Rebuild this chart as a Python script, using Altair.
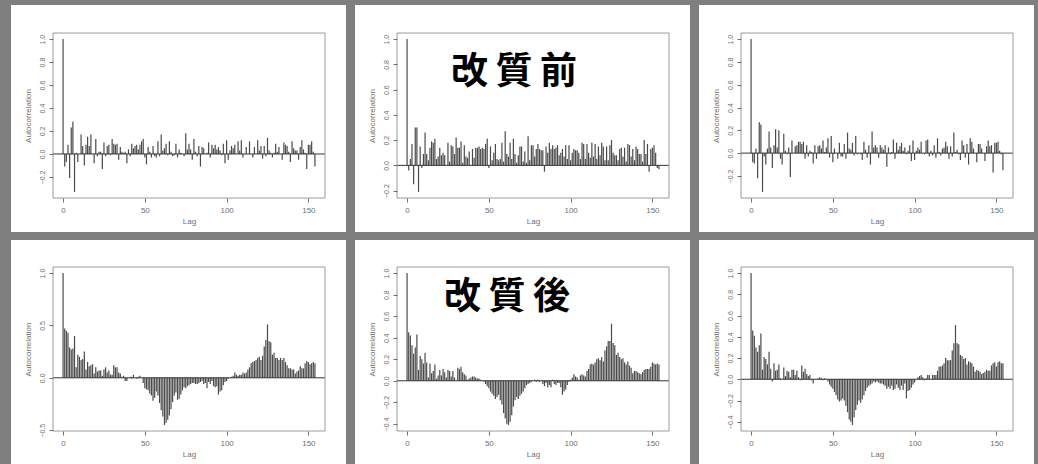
import altair as alt
import pandas as pd

# Sample autocorrelation (lags 0..154) for three series, before and after treatment
lags = list(range(155))

acf_before_a = [
    1.0, -0.11, -0.07, 0.08, -0.21, 0.23, 0.28, -0.33, 0.01, -0.07,
    0.0, 0.17, 0.07, -0.1, 0.08, 0.15, 0.07, 0.17, 0.0, -0.08,
    0.13, -0.02, 0.02, 0.02, -0.13, 0.1, -0.02, 0.07, 0.08, -0.01,
    0.13, 0.09, 0.08, 0.09, -0.05, 0.06, 0.02, 0.01, 0.02, -0.08,
    0.04, -0.02, 0.09, 0.05, 0.07, 0.08, 0.04, 0.08, 0.11, 0.13,
    -0.03, -0.09, 0.06, 0.02, -0.03, 0.07, -0.02, -0.03, 0.11, -0.02,
    0.17, 0.03, 0.05, 0.09, -0.01, 0.11, 0.02, -0.02, -0.01, 0.09,
    -0.03, 0.04, 0.01, 0.0, -0.02, 0.18, 0.04, 0.09, 0.04, -0.05,
    0.13, 0.02, -0.02, 0.07, -0.11, 0.06, 0.05, 0.0, 0.01, 0.1,
    -0.03, 0.08, 0.05, 0.08, 0.04, 0.06, 0.03, -0.01, 0.09, -0.08,
    0.12, -0.05, 0.03, 0.07, 0.05, 0.08, 0.0, 0.11, 0.03, 0.12,
    -0.03, 0.0, 0.06, 0.0, 0.11, 0.0, -0.03, 0.06, 0.0, 0.12,
    0.03, 0.07, -0.04, 0.07, -0.02, 0.14, 0.03, 0.01, -0.03, 0.01,
    0.09, 0.02, 0.06, 0.0, -0.05, 0.1, 0.08, 0.07, 0.02, -0.07,
    0.11, 0.05, 0.03, 0.03, -0.05, 0.06, 0.12, 0.04, 0.01, -0.13,
    0.08, 0.08, 0.11, 0.02, -0.11,
]

acf_before_b = [
    1.0, -0.04, 0.05, 0.17, -0.15, 0.3, 0.3, -0.21, 0.15, -0.02,
    0.09, 0.26, 0.09, 0.04, 0.14, 0.19, 0.18, 0.21, 0.05, 0.07,
    0.14, 0.08, 0.1, 0.08, 0.0, 0.18, 0.03, 0.16, 0.15, 0.09,
    0.22, 0.14, 0.14, 0.19, 0.02, 0.16, 0.07, 0.06, 0.11, 0.0,
    0.13, 0.06, 0.14, 0.14, 0.15, 0.13, 0.14, 0.13, 0.17, 0.21,
    -0.02, 0.15, 0.04, 0.1, 0.17, 0.05, 0.04, 0.05, 0.18, 0.03,
    0.27, 0.09, 0.07, 0.18, 0.05, 0.21, 0.09, 0.02, 0.08, 0.15,
    0.15, 0.03, 0.11, 0.02, 0.23, 0.04, 0.16, 0.16, 0.07, 0.13,
    0.17, 0.13, 0.12, 0.12, -0.05, 0.15, 0.1, 0.18, 0.13, 0.16,
    0.13, 0.14, 0.16, 0.08, 0.1, 0.13, 0.07, 0.16, 0.05, 0.16,
    0.04, 0.1, 0.13, 0.12, 0.12, 0.1, 0.05, 0.18, 0.17, 0.05,
    0.17, 0.1, 0.06, 0.18, 0.07, 0.17, 0.05, 0.15, 0.08, 0.18,
    0.15, 0.04, 0.15, 0.04, 0.16, 0.2, 0.1, 0.08, 0.08, 0.04,
    0.13, 0.14, 0.07, 0.14, 0.03, 0.17, 0.16, 0.07, 0.13, 0.04,
    0.15, 0.13, 0.09, 0.09, 0.03, 0.2, 0.09, 0.17, -0.05, 0.13,
    0.14, 0.16, 0.1, -0.02, -0.03,
]

acf_before_c = [
    1.0, -0.08, -0.09, 0.04, -0.22, 0.27, 0.25, -0.34, -0.03, -0.1,
    0.04, 0.19, 0.05, -0.13, 0.07, 0.21, 0.05, 0.2, -0.05, -0.1,
    0.17, 0.02, -0.01, 0.05, -0.21, 0.11, 0.0, 0.06, 0.07, 0.1,
    0.1, 0.08, 0.1, -0.05, 0.07, -0.03, 0.02, 0.01, -0.09, 0.07,
    -0.05, 0.06, 0.07, 0.04, 0.11, 0.01, 0.05, 0.13, -0.04, 0.15,
    -0.08, 0.04, 0.0, -0.05, 0.09, -0.03, -0.03, 0.08, -0.05, 0.18,
    0.04, 0.03, 0.09, -0.02, 0.15, -0.01, 0.0, -0.01, -0.06, 0.1,
    0.03, -0.04, 0.07, -0.1, 0.19, 0.05, 0.07, 0.05, -0.04, 0.07,
    0.05, 0.03, 0.07, -0.12, 0.05, -0.01, 0.01, 0.12, -0.05, 0.09,
    0.03, 0.06, 0.09, 0.02, 0.05, -0.01, 0.02, 0.07, -0.07, 0.11,
    -0.06, 0.02, 0.05, 0.03, 0.1, 0.0, -0.01, 0.11, 0.12, -0.03,
    0.02, -0.02, 0.07, -0.04, 0.13, 0.01, -0.02, 0.04, 0.05, 0.1,
    0.06, -0.05, 0.06, -0.03, 0.18, 0.01, 0.03, -0.01, -0.06, 0.11,
    0.07, -0.04, 0.08, -0.1, 0.13, 0.1, 0.04, 0.0, -0.08, 0.08,
    0.08, 0.04, 0.0, -0.07, 0.06, 0.11, 0.06, 0.07, -0.17, 0.09,
    0.09, 0.1, 0.02, -0.01, -0.15,
]

acf_after_a = [
    1.0, 0.47, 0.45, 0.43, 0.29, 0.27, 0.28, 0.4, 0.1, 0.22,
    0.2, 0.17, 0.18, 0.25, 0.08, 0.15, 0.11, 0.12, 0.13, 0.04,
    0.1, 0.06, 0.07, 0.07, 0.02, 0.08, 0.1, 0.05, 0.07, 0.03,
    0.03, 0.12, 0.1, 0.1, 0.05, 0.04, 0.01, 0.02, -0.03, -0.03,
    0.0, 0.01, -0.01, 0.03, 0.0, -0.01, 0.01, 0.02, 0.0, -0.05,
    -0.1, -0.11, -0.12, -0.15, -0.17, -0.22, -0.19, -0.13, -0.17, -0.24,
    -0.31, -0.37, -0.45, -0.43, -0.4, -0.36, -0.3, -0.23, -0.17, -0.14,
    -0.21, -0.2, -0.16, -0.12, -0.09, -0.1, -0.08, -0.07, -0.06, -0.05,
    -0.05, -0.06, -0.06, -0.05, -0.04, -0.03, -0.06, -0.05, -0.1, -0.04,
    -0.06, -0.03, -0.08, -0.09, -0.08, -0.16, -0.13, -0.12, -0.07, -0.04,
    -0.03, -0.01, 0.0, 0.01, 0.02, 0.05, 0.03, 0.02, 0.03, 0.03,
    0.05, 0.04, 0.05, 0.08, 0.1, 0.14, 0.15, 0.16, 0.17, 0.19,
    0.2, 0.17, 0.21, 0.3, 0.36, 0.51, 0.35, 0.34, 0.22, 0.24,
    0.19, 0.19, 0.17, 0.19, 0.17, 0.19, 0.15, 0.12, 0.09, 0.09,
    0.08, 0.08, 0.04, 0.06, 0.07, 0.11, 0.09, 0.09, 0.14, 0.16,
    0.15, 0.13, 0.14, 0.15, 0.14,
]

acf_after_b = [
    1.0, 0.45, 0.42, 0.33, 0.25, 0.31, 0.43, 0.1, 0.23, 0.2,
    0.16, 0.26, 0.17, 0.03, 0.16, 0.07, 0.09, 0.15, 0.02, 0.05,
    0.1, 0.05, 0.11, 0.08, 0.03, 0.1, 0.09, 0.04, 0.09, 0.03,
    0.0, 0.12, 0.11, 0.13, 0.08, 0.06, 0.05, 0.01, 0.02, 0.03,
    0.04, 0.04, 0.03, 0.02, 0.02, 0.01, 0.0, -0.01, -0.03, -0.05,
    -0.07, -0.1, -0.12, -0.14, -0.17, -0.15, -0.13, -0.18, -0.22, -0.3,
    -0.35, -0.4, -0.41, -0.38, -0.32, -0.24, -0.18, -0.15, -0.17, -0.14,
    -0.12, -0.1, -0.07, -0.04, -0.03, -0.02, -0.01, 0.0, 0.01, -0.01,
    0.01, -0.01, 0.0, -0.03, -0.05, -0.02, -0.06, -0.04, -0.06, 0.01,
    -0.03, -0.04, -0.02, -0.02, -0.06, -0.13, -0.1, -0.08, -0.04, -0.01,
    0.01, 0.03, 0.06, 0.04, 0.03, 0.01, 0.05, 0.06, 0.05, 0.04,
    0.09, 0.11, 0.15, 0.16, 0.15, 0.17, 0.2, 0.21, 0.19, 0.22,
    0.18, 0.28, 0.32, 0.37, 0.37, 0.53, 0.35, 0.33, 0.24, 0.26,
    0.22, 0.2, 0.21, 0.17, 0.15, 0.18, 0.14, 0.12, 0.07, 0.09,
    0.09, 0.08, 0.07, 0.06, 0.08, 0.1, 0.11, 0.11, 0.11, 0.13,
    0.17, 0.16, 0.15, 0.16, 0.15,
]

acf_after_c = [
    1.0, 0.46, 0.41, 0.3, 0.26, 0.32, 0.43, 0.09, 0.21, 0.19,
    0.14, 0.26, 0.1, -0.02, 0.15, 0.08, 0.09, 0.14, 0.01, 0.0,
    0.11, 0.03, 0.08, 0.07, 0.02, 0.09, 0.09, 0.04, 0.08, 0.02,
    -0.01, 0.13, 0.07, 0.1, 0.05, 0.03, 0.04, -0.01, -0.04, 0.0,
    0.0, 0.01, 0.02, 0.01, -0.01, 0.01, 0.0, -0.02, -0.05, -0.07,
    -0.09, -0.12, -0.15, -0.19, -0.21, -0.2, -0.18, -0.2, -0.25, -0.31,
    -0.38, -0.4, -0.43, -0.36, -0.29, -0.24, -0.2, -0.22, -0.19, -0.15,
    -0.11, -0.08, -0.06, -0.05, -0.04, -0.02, -0.03, -0.02, -0.03, -0.04,
    -0.04, -0.05, -0.06, -0.09, -0.07, -0.09, -0.06, -0.1, -0.09, -0.05,
    -0.08, -0.1, -0.06, -0.1, -0.04, -0.18, -0.11, -0.1, -0.08, -0.05,
    -0.03, 0.0, 0.02, 0.03, 0.04, 0.02, -0.01, 0.01, 0.04, 0.04,
    0.0, 0.04, 0.04, 0.04, 0.08, 0.12, 0.12, 0.13, 0.15, 0.2,
    0.18, 0.18, 0.18, 0.27, 0.34, 0.51, 0.34, 0.33, 0.23, 0.22,
    0.19, 0.2, 0.14, 0.17, 0.16, 0.15, 0.12, 0.07, 0.09, 0.08,
    0.07, 0.05, 0.06, 0.07, 0.09, 0.08, 0.08, 0.13, 0.15, 0.16,
    0.12, 0.16, 0.17, 0.15, 0.15,
]

lag_ticks = [0, 50, 100, 150]
acf_ticks_fine = [-0.4, -0.2, 0.0, 0.2, 0.4, 0.6, 0.8, 1.0]
acf_ticks_coarse = [-0.5, 0.0, 0.5, 1.0]

label_before = "改\u2009質\u2009前"
label_after = "改\u2009質\u2009後"

FONT = "Liberation Sans"
W = 272
LEFT, RIGHT = 42, 21
AXIS_GREY = "#6f6f6f"
BAR = "#4a4a4a"


def acf_panel(values, yticks, height, top, bottom, label=None, label_xy=(0, 0)):
    df = pd.DataFrame({"lag": lags, "acf": values})
    n = len(values) - 1
    lo, hi = min(values), max(values)
    pad = 0.04 * (hi - lo)
    shown_ticks = [t for t in yticks if lo - pad <= t <= hi + pad]

    x = alt.X(
        "lag:Q",
        scale=alt.Scale(domain=[-0.04 * n, 1.04 * n], nice=False, zero=False),
        axis=alt.Axis(
            values=lag_ticks, tickCount=len(lag_ticks), title="Lag",
            domain=False, grid=False,
            tickSize=4, tickColor=AXIS_GREY, labelColor=AXIS_GREY,
            labelFontSize=8, labelPadding=4, labelOverlap=False,
            titleFontSize=8, titleFontWeight="normal", titleColor=AXIS_GREY,
            titlePadding=3, zindex=1,
        ),
    )
    y = alt.Y(
        "acf:Q",
        scale=alt.Scale(domain=[lo - pad, hi + pad], nice=False, zero=False),
        axis=alt.Axis(
            values=shown_ticks, tickCount=len(shown_ticks),
            format=".1f", title="Autocorrelation", domain=False, grid=False,
            tickSize=4, tickColor=AXIS_GREY, labelColor=AXIS_GREY,
            labelFontSize=7, labelAngle=270, labelAlign="center",
            labelBaseline="bottom", labelPadding=4, labelOverlap=False,
            titleFontSize=8, titleFontWeight="normal", titleColor=AXIS_GREY,
            titlePadding=6, zindex=1,
        ),
    )

    one_row = alt.Data(values=[{"k": 0}])

    # white card behind the plot and its axes
    card = alt.Chart(one_row).mark_rect(fill="white", clip=False).encode(
        x=alt.value(-LEFT), x2=alt.value(W + RIGHT),
        y=alt.value(-top), y2=alt.value(height + bottom),
    )
    bars = alt.Chart(df).mark_rule(color=BAR, strokeWidth=1.2).encode(
        x=x, y=y, y2=alt.datum(0)
    )
    zero_line = alt.Chart(one_row).mark_rule(color="#333333", strokeWidth=1).encode(
        y=alt.datum(0)
    )
    frame = alt.Chart(one_row).mark_rect(
        fillOpacity=0, stroke="#9a9a9a", strokeWidth=1
    ).encode(
        x=alt.value(0), x2=alt.value(W), y=alt.value(0), y2=alt.value(height)
    )
    layers = [card, bars, zero_line, frame]
    if label:
        layers.append(
            alt.Chart(alt.Data(values=[{"t": label}])).mark_text(
                font="Noto Sans CJK JP", fontSize=37, fontWeight="bold",
                color="black",
            ).encode(x=alt.value(label_xy[0]), y=alt.value(label_xy[1]), text="t:N")
        )
    return alt.layer(*layers).properties(width=W, height=height)


top_row = alt.hconcat(
    acf_panel(acf_before_a, acf_ticks_fine, 165, 28, 34),
    acf_panel(acf_before_b, acf_ticks_fine, 165, 28, 34, label_before, (117, 40)),
    acf_panel(acf_before_c, acf_ticks_fine, 165, 28, 34),
    spacing=9,
)
bottom_row = alt.hconcat(
    acf_panel(acf_after_a, acf_ticks_coarse, 164, 27, 33),
    acf_panel(acf_after_b, acf_ticks_fine, 164, 27, 33, label_after, (110, 31)),
    acf_panel(acf_after_c, acf_ticks_fine, 164, 27, 33),
    spacing=9,
)

chart = alt.vconcat(top_row, bottom_row, spacing=8).properties(
    background="#7f7f7f",
    padding={"left": 11, "top": 5, "right": 4, "bottom": 0},
).configure(font=FONT).configure_view(strokeWidth=0)

chart.save("out.html", embed_options={"renderer": "svg", "actions": False})
